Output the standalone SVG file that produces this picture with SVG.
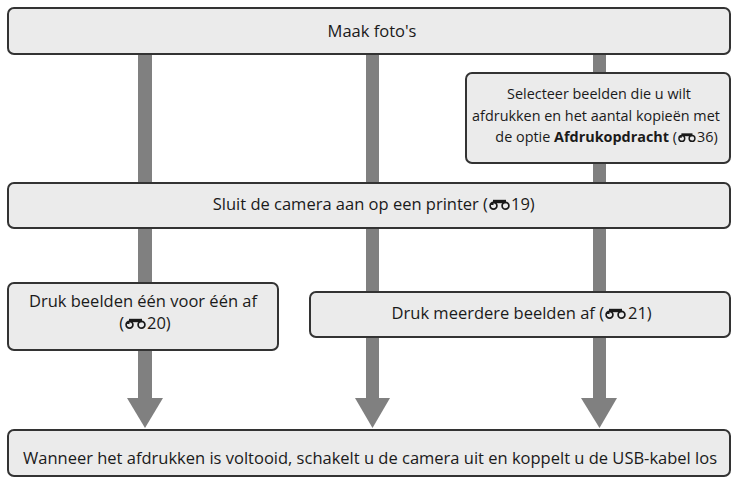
<svg xmlns="http://www.w3.org/2000/svg" xmlns:xlink="http://www.w3.org/1999/xlink" width="732" height="483" viewBox="0 0 732 483">
<style>
  .box { fill: #ebebeb; stroke: #333333; stroke-width: 2; }
  .bar { fill: #808080; }
  .t { font-family: "Open Sans", "Liberation Sans", sans-serif; font-size: 16.5px; fill: #1a1a1a; }
  .s { font-size: 14.4px; }
  .c { text-anchor: middle; }
  .e { text-anchor: end; }
  .b { font-weight: bold; }
</style>
<defs>
  <g id="bino">
    <circle cx="4.5" cy="-4.2" r="3.4" fill="none" stroke="#1a1a1a" stroke-width="1.7"/>
    <circle cx="16.5" cy="-4.2" r="3.4" fill="none" stroke="#1a1a1a" stroke-width="1.7"/>
    <path d="M1.3,-5 A3.4,3.4 0 0 1 4.5,-7.6 L4.5,-5 Z" fill="#1a1a1a"/>
    <rect x="4" y="-10.2" width="13" height="3.4" fill="#1a1a1a"/>
  </g>
</defs>
<g id="connectors">
  <rect class="bar" x="138" y="54" width="14" height="345"/>
  <rect class="bar" x="366" y="54" width="13" height="345"/>
  <rect class="bar" x="593" y="54" width="13" height="345"/>
  <polygon class="bar" points="127,398 163,398 145,428"/>
  <polygon class="bar" points="355,398 390,398 372.5,428"/>
  <polygon class="bar" points="581,398 617,398 599.5,428"/>
</g>
<g id="n1">
  <rect class="box" x="8" y="8" width="722" height="46" rx="6"/>
  <text class="t c" x="372" y="37">Maak foto's</text>
</g>
<g id="n2">
  <rect class="box" x="466" y="73" width="264" height="90" rx="6"/>
  <text class="t s c" x="599" y="99">Selecteer beelden die u wilt</text>
  <text class="t s c" x="596" y="121">afdrukken en het aantal kopieën met</text>
  <text class="t s e" x="677" y="142">de optie <tspan class="b">Afdrukopdracht</tspan> (</text>
  <use xlink:href="#bino" transform="translate(678,142) scale(0.85)"/>
  <text class="t s" x="697" y="142">36)</text>
</g>
<g id="n3">
  <rect class="box" x="8" y="183" width="722" height="45" rx="6"/>
  <text class="t e" x="488" y="210">Sluit de camera aan op een printer (</text>
  <use xlink:href="#bino" x="489" y="210"/>
  <text class="t" x="511" y="210">19)</text>
</g>
<g id="n4">
  <rect class="box" x="8" y="283" width="270" height="67" rx="6"/>
  <text class="t c" x="143" y="307">Druk beelden één voor één af</text>
  <text class="t e" x="124" y="329">(</text>
  <use xlink:href="#bino" x="125" y="329"/>
  <text class="t" x="147" y="329">20)</text>
</g>
<g id="n5">
  <rect class="box" x="310" y="292" width="420" height="45" rx="6"/>
  <text class="t e" x="604" y="319">Druk meerdere beelden af (</text>
  <use xlink:href="#bino" x="605" y="319"/>
  <text class="t" x="628" y="319">21)</text>
</g>
<g id="n6">
  <rect class="box" x="8" y="430" width="722" height="46" rx="6"/>
  <text class="t c" x="370" y="464">Wanneer het afdrukken is voltooid, schakelt u de camera uit en koppelt u de USB-kabel los</text>
</g>
</svg>
